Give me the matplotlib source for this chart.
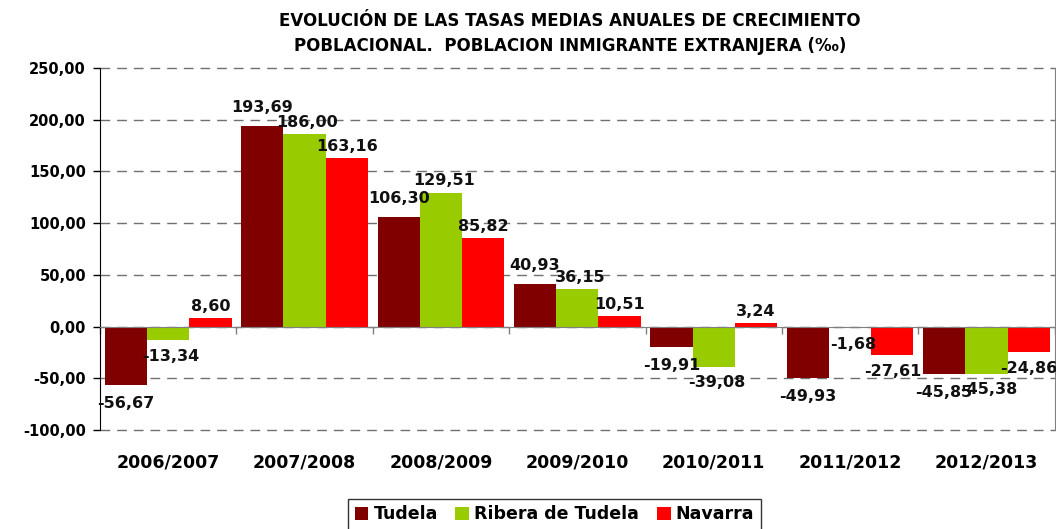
import matplotlib
matplotlib.use("Agg")
import matplotlib.pyplot as plt
import numpy as np

PERIODS = ["2006/2007", "2007/2008", "2008/2009", "2009/2010",
           "2010/2011", "2011/2012", "2012/2013"]
SERIES = ["Tudela", "Ribera de Tudela", "Navarra"]
TUDELA = [-56.67, 193.69, 106.30, 40.93, -19.91, -49.93, -45.85]
RIBERA = [-13.34, 186.00, 129.51, 36.15, -39.08, -1.68, -45.38]
NAVARRA = [8.60, 163.16, 85.82, 10.51, 3.24, -27.61, -24.86]
Y_TICKS = [-100, -50, 0, 50, 100, 150, 200, 250]

COLORS = ["#800000", "#99CC00", "#FF0000"]
TITLE = ("EVOLUCIÓN DE LAS TASAS MEDIAS ANUALES DE CRECIMIENTO\n"
         "POBLACIONAL.  POBLACION INMIGRANTE EXTRANJERA (‰)")


def fmt(v):
    return f"{v:.2f}".replace(".", ",")


plt.rcParams["font.family"] = ["DejaVu Sans"]
plt.rcParams["font.weight"] = "bold"

fig = plt.figure(figsize=(10.56, 5.29), dpi=100)
ax = fig.add_axes([0.0947, 0.187, 0.904, 0.6845])

x = np.arange(len(PERIODS))
width = 0.31
values = [TUDELA, RIBERA, NAVARRA]
for i, (name, vals, color) in enumerate(zip(SERIES, values, COLORS)):
    xs = x + (i - 1) * width
    ax.bar(xs, vals, width=width, color=color, label=name, zorder=3)
    for xi, v in zip(xs, vals):
        # label gap from the bar end, loosely like the original Excel layout
        if i == 0:
            dy = 8 if v >= 0 else -8
        else:
            dy = 3 if v >= 0 else -6
        ax.annotate(fmt(v), (xi, v), xytext=(2 if i == 1 else 0, dy),
                    textcoords="offset points", ha="center",
                    va="bottom" if v >= 0 else "top",
                    fontsize=11.5, fontweight="bold", color="#111111", zorder=5)

ax.set_xlim(-0.5, len(PERIODS) - 0.5)
ax.set_ylim(-100, 250)
ax.set_yticks(Y_TICKS)
ax.set_yticklabels([fmt(t) for t in Y_TICKS], fontsize=10.5, fontweight="bold")
ax.tick_params(axis="y", direction="out", length=5, width=1, pad=5, color="black")

ax.yaxis.grid(True, color="#707070", linestyle=(0, (7, 5)), linewidth=1, zorder=0)
ax.set_axisbelow(True)
for gl in ax.get_ygridlines():
    gl.set_clip_on(False)

# zero axis with ticks between categories
ax.spines["bottom"].set_position(("data", 0))
ax.spines["bottom"].set_color("#808080")
ax.spines["bottom"].set_zorder(4)
ax.set_xticks(np.arange(len(PERIODS) + 1) - 0.5)
ax.set_xticklabels([])
ax.tick_params(axis="x", direction="out", length=5, width=1, color="#808080")

ax.spines["top"].set_visible(False)
ax.spines["right"].set_color("#808080")
ax.spines["left"].set_color("black")

sec = ax.secondary_xaxis("bottom")
sec.set_xticks(x)
sec.set_xticklabels(PERIODS, fontsize=12.5, fontweight="bold")
sec.tick_params(length=0, pad=17)
sec.spines["bottom"].set_visible(False)

fig.text(0.54, 0.978, TITLE, ha="center", va="top", fontsize=12,
         fontweight="bold", linespacing=1.55)

leg = fig.legend(loc="upper center", bbox_to_anchor=(0.525, 0.074), ncol=3,
                 frameon=True, fancybox=False, edgecolor="black",
                 prop={"size": 12.5, "weight": "bold"},
                 handlelength=0.8, handleheight=0.8, handletextpad=0.3,
                 columnspacing=1.0, borderpad=0.4)
leg.get_frame().set_linewidth(1)

fig.savefig("out.png", dpi=100)
